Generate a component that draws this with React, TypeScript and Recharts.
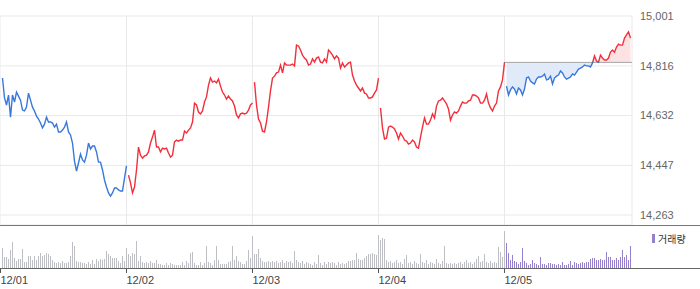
import React from 'react';
import {
  ComposedChart,
  Line,
  Area,
  XAxis,
  YAxis,
  CartesianGrid,
  ReferenceLine,
  BarChart,
  Bar,
  Cell,
} from 'recharts';

// tick labels
const DAYS = ['12/01', '12/02', '12/03', '12/04', '12/05'];
const PRICE_TICKS = [14263, 14447, 14632, 14816, 15001];
const PREV_CLOSE = 14829;

// intraday prices, one list per day
const day1 = [
  14771, 14697, 14671, 14708, 14626, 14708, 14682, 14719, 14704, 14689,
  14652, 14649, 14663, 14715, 14689, 14663, 14649, 14630, 14619, 14604,
  14586, 14600, 14626, 14608, 14608, 14604, 14589, 14600, 14571, 14571,
  14578, 14589, 14608, 14571, 14560, 14530, 14463, 14426, 14456, 14489,
  14467, 14459, 14485, 14530, 14508, 14519, 14519, 14497, 14459, 14459,
  14430, 14393, 14367, 14345, 14333, 14345, 14363, 14363, 14356, 14352,
  14352, 14400, 14445,
];
const day2 = [
  14411, 14382, 14345, 14367, 14430, 14515, 14485, 14474, 14482, 14485,
  14497, 14530, 14552, 14578, 14515, 14515, 14497, 14511, 14508, 14511,
  14493, 14478, 14485, 14534, 14541, 14537, 14541, 14541, 14574, 14567,
  14578, 14586, 14608, 14678, 14671, 14645, 14638, 14649, 14682, 14701,
  14745, 14771, 14756, 14760, 14753, 14767, 14741, 14719, 14708, 14693,
  14704, 14693, 14686, 14667, 14634, 14623, 14638, 14641, 14638, 14641,
  14652, 14671, 14678,
];
const day3 = [
  14756, 14671, 14619, 14604, 14574, 14571, 14608, 14663, 14723, 14771,
  14778, 14790, 14793, 14819, 14790, 14827, 14819, 14819, 14819, 14823,
  14816, 14893, 14890, 14875, 14856, 14845, 14838, 14819, 14823, 14842,
  14830, 14845, 14849, 14830, 14827, 14842, 14830, 14875, 14867, 14856,
  14842, 14853, 14845, 14808, 14827, 14812, 14819, 14827, 14830, 14782,
  14760, 14745, 14734, 14723, 14734, 14715, 14712, 14697, 14697, 14701,
  14715, 14727, 14771,
];
const day4 = [
  14660, 14586, 14545, 14548, 14589, 14593, 14589, 14582, 14567, 14545,
  14567, 14556, 14541, 14537, 14526, 14530, 14541, 14534, 14515, 14511,
  14552, 14589, 14623, 14600, 14600, 14615, 14638, 14623, 14667, 14686,
  14689, 14697, 14686, 14675, 14656, 14615, 14634, 14645, 14641, 14649,
  14667, 14682, 14678, 14678, 14686, 14689, 14708, 14708, 14704, 14697,
  14678, 14678, 14689, 14712, 14678, 14660, 14649, 14667, 14678, 14723,
  14738, 14764, 14829,
];
const day5 = [
  14741, 14708, 14727, 14738, 14730, 14712, 14734, 14727, 14708, 14730,
  14771, 14775, 14760, 14753, 14749, 14767, 14775, 14775, 14778, 14786,
  14764, 14767, 14778, 14749, 14771, 14778, 14782, 14797, 14790, 14775,
  14767, 14771, 14775, 14786, 14782, 14793, 14804, 14808, 14812, 14819,
  14816, 14816, 14812, 14827, 14853, 14834, 14830, 14856, 14845, 14838,
  14838, 14845, 14867, 14875, 14867, 14886, 14897, 14893, 14893, 14919,
  14931, 14942, 14919,
];

// volume (thousand shares), one list per day
const vol1 = [
  20, 11, 11, 9, 18, 26, 10, 7, 9, 9,
  19, 6, 6, 12, 12, 8, 12, 8, 12, 15,
  12, 13, 15, 14, 12, 8, 6, 5, 6, 5,
  7, 5, 5, 6, 12, 26, 22, 7, 6, 6,
  5, 5, 4, 6, 4, 8, 4, 9, 7, 9,
  8, 9, 17, 14, 12, 10, 10, 10, 7, 5,
  12, 7, 20,
];
const vol2 = [
  14, 12, 15, 14, 27, 7, 12, 6, 5, 6,
  5, 7, 5, 5, 8, 4, 4, 3, 3, 5,
  3, 5, 4, 3, 3, 3, 3, 6, 3, 7,
  5, 15, 16, 5, 3, 3, 6, 3, 5, 22,
  6, 5, 3, 8, 22, 8, 4, 4, 4, 4,
  6, 7, 22, 8, 12, 7, 6, 4, 4, 7,
  18, 10, 32,
];
const vol3 = [
  14, 14, 19, 10, 7, 6, 6, 7, 6, 7,
  6, 7, 5, 6, 8, 5, 7, 6, 7, 5,
  17, 8, 6, 5, 7, 4, 6, 5, 4, 3,
  6, 4, 13, 5, 3, 6, 4, 6, 5, 6,
  5, 3, 6, 4, 5, 4, 5, 7, 7, 8,
  8, 15, 9, 8, 8, 10, 12, 14, 14, 15,
  14, 13, 33,
];
const vol4 = [
  28, 30, 29, 8, 6, 7, 5, 6, 8, 5,
  6, 4, 9, 13, 5, 6, 4, 7, 5, 4,
  14, 6, 5, 8, 4, 6, 5, 4, 9, 5,
  4, 7, 22, 5, 4, 5, 4, 5, 4, 5,
  6, 4, 6, 8, 5, 6, 4, 6, 9, 12,
  6, 7, 14, 6, 5, 7, 5, 6, 5, 21,
  16, 11, 37,
];
const vol5 = [
  25, 15, 8, 13, 7, 6, 4, 6, 20, 7,
  5, 3, 4, 8, 5, 4, 3, 11, 4, 4,
  3, 5, 5, 4, 4, 3, 4, 3, 6, 3,
  3, 4, 7, 3, 6, 5, 4, 5, 6, 5,
  6, 6, 9, 10, 10, 8, 8, 9, 8, 8,
  16, 11, 11, 8, 8, 10, 8, 11, 18, 11,
  13, 8, 22,
];

const PER_DAY = 63;
const W = 700;
const PLOT_W = 632;
const PRICE_H = 226;
const PLOT_TOP = 16;
const PLOT_BOTTOM = 225;
const Y_MIN = 14226;
const Y_MAX = 15001;
const X_DOMAIN = [-0.25, PER_DAY * DAYS.length + 0.75];
const DAY_TICKS = DAYS.map((_, d) => d * PER_DAY);

const RED = '#f42f3c';
const BLUE = '#3878de';
const GREY_BAR = '#bdbfc4';
const PURPLE = '#9580cd';
const FONT = '"Liberation Sans", Arial, sans-serif';

const priceDays = [day1, day2, day3, day4, day5];
const volDays = [vol1, vol2, vol3, vol4, vol5];

const priceData: any[] = [];
priceDays.forEach((arr, d) => {
  arr.forEach((p, k) => {
    priceData.push({ i: d * PER_DAY + k + 1, ['d' + (d + 1)]: p });
  });
});

const volData: any[] = [];
volDays.forEach((arr, d) => {
  arr.forEach((v, k) => {
    volData.push({ i: d * PER_DAY + k + 1, v, day: d });
  });
});

const splitOffset = (Y_MAX - PREV_CLOSE) / (Y_MAX - Y_MIN);

const App: React.FC = () => {
  return (
    <div style={{ position: 'relative', width: W, height: 289, fontFamily: FONT, background: '#fff' }}>
      <style>{'body{margin:0}'}</style>

      <div style={{ position: 'absolute', left: 0, top: 0 }}>
        <ComposedChart
          width={W}
          height={PRICE_H}
          data={priceData}
          margin={{ top: PLOT_TOP, right: 0, bottom: PRICE_H - PLOT_BOTTOM, left: 0 }}
        >
          <defs>
            <linearGradient id="d5Stroke" gradientUnits="userSpaceOnUse" x1="0" y1={PLOT_TOP} x2="0" y2={PLOT_BOTTOM}>
              <stop offset={splitOffset} stopColor={RED} />
              <stop offset={splitOffset} stopColor={BLUE} />
            </linearGradient>
            <linearGradient id="d5Fill" gradientUnits="userSpaceOnUse" x1="0" y1={PLOT_TOP} x2="0" y2={PLOT_BOTTOM}>
              <stop offset={splitOffset} stopColor="#fde2e4" />
              <stop offset={splitOffset} stopColor="#e1eaf8" />
            </linearGradient>
          </defs>
          <CartesianGrid stroke="#e9e9e9" />
          <XAxis dataKey="i" type="number" domain={X_DOMAIN} ticks={DAY_TICKS.slice(1)} hide />
          <YAxis
            orientation="right"
            width={W - PLOT_W}
            domain={[Y_MIN, Y_MAX]}
            ticks={PRICE_TICKS}
            axisLine={false}
            tickLine={false}
            allowDataOverflow
            tick={{ fill: '#666', fontSize: 11 }}
            tickFormatter={(v: number) => v.toLocaleString('en-US')}
          />
          <Area
            type="linear"
            dataKey="d5"
            baseValue={PREV_CLOSE}
            stroke="url(#d5Stroke)"
            strokeWidth={1.4}
            fill="url(#d5Fill)"
            fillOpacity={1}
            dot={false}
            activeDot={false}
            isAnimationActive={false}
          />
          <Line type="linear" dataKey="d1" stroke={BLUE} strokeWidth={1.4} dot={false} isAnimationActive={false} />
          <Line type="linear" dataKey="d2" stroke={RED} strokeWidth={1.4} dot={false} isAnimationActive={false} />
          <Line type="linear" dataKey="d3" stroke={RED} strokeWidth={1.4} dot={false} isAnimationActive={false} />
          <Line type="linear" dataKey="d4" stroke={RED} strokeWidth={1.4} dot={false} isAnimationActive={false} />
          <ReferenceLine
            segment={[
              { x: DAY_TICKS[4], y: PREV_CLOSE },
              { x: X_DOMAIN[1], y: PREV_CLOSE },
            ]}
            stroke="#555"
            strokeDasharray="1 1"
          />
        </ComposedChart>
      </div>

      <div style={{ position: 'absolute', left: 0, top: 225, width: W, height: 1, background: '#777' }} />

      <div style={{ position: 'absolute', left: 0, top: 226, shapeRendering: 'crispEdges' }}>
        <BarChart width={W} height={63} data={volData} margin={{ top: 2, right: W - PLOT_W, bottom: 0, left: 0 }}>
          <XAxis
            dataKey="i"
            type="number"
            domain={X_DOMAIN}
            ticks={DAY_TICKS}
            interval={0}
            axisLine={false}
            tickSize={5}
            tickMargin={3}
            height={21}
            tickLine={{ stroke: '#555' }}
            tick={{ fill: '#444', fontSize: 11, textAnchor: 'start' }}
            tickFormatter={(v: number) => DAYS[Math.round(v / PER_DAY)]}
          />
          <YAxis hide domain={[0, 40]} />
          <Bar dataKey="v" barSize={1} isAnimationActive={false}>
            {volData.map((r) => (
              <Cell key={r.i} fill={r.day === 4 ? PURPLE : GREY_BAR} />
            ))}
          </Bar>
        </BarChart>
      </div>

      <div style={{ position: 'absolute', left: 0, top: 268, width: W, height: 1, background: '#666' }} />

      <div
        style={{
          position: 'absolute',
          left: 652,
          top: 231,
          display: 'flex',
          alignItems: 'center',
          fontSize: 10,
          color: '#333',
          fontFamily: '"Noto Sans CJK KR", sans-serif',
        }}
      >
        <span style={{ display: 'inline-block', width: 3, height: 9, background: PURPLE, marginRight: 3 }} />
        <span>거래량</span>
      </div>
    </div>
  );
};

export default App;
